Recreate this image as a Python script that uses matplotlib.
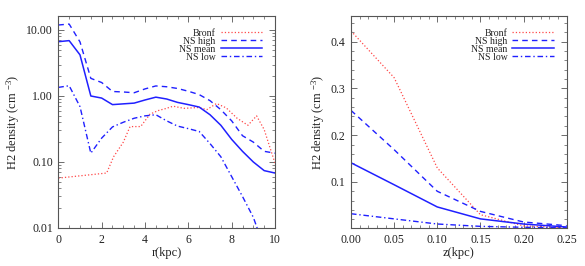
import matplotlib
matplotlib.use('Agg')
import matplotlib.pyplot as plt
from matplotlib.ticker import MultipleLocator, FixedLocator, FixedFormatter, NullFormatter, LogLocator
import numpy as np

# radial profile (left)
r_ns = [0, 0.5, 1.0, 1.5, 2.0, 2.5, 3.0, 3.5, 4.0, 4.5, 5.0, 5.5, 6.0, 6.5, 7.0, 7.5, 8.0, 8.5, 9.0, 9.5, 10.0]
ns_high_r = [11.9, 12.3, 6.6, 1.85, 1.6, 1.17, 1.15, 1.12, 1.28, 1.42, 1.38, 1.30, 1.18, 1.05, 0.85, 0.62, 0.42, 0.25, 0.20, 0.145, 0.136]
ns_mean_r = [6.65, 6.9, 4.2, 1.0, 0.93, 0.74, 0.76, 0.78, 0.87, 0.96, 0.90, 0.80, 0.74, 0.68, 0.52, 0.36, 0.22, 0.145, 0.10, 0.074, 0.068]
ns_low_r = [1.35, 1.43, 0.69, 0.136, 0.23, 0.34, 0.40, 0.46, 0.50, 0.52, 0.42, 0.35, 0.32, 0.29, 0.19, 0.12, 0.06, 0.030, 0.0145, 0.005, 0.002]

r_bronf = [0, 2.23, 2.55, 3.0, 3.31, 3.8, 4.23, 4.6, 4.92, 5.3, 5.8, 6.5, 6.85, 7.3, 7.75, 8.25, 8.75, 9.15, 9.5, 10.0]
bronf_r = [0.057, 0.068, 0.12, 0.20, 0.344, 0.344, 0.53, 0.60, 0.64, 0.70, 0.65, 0.67, 0.62, 0.77, 0.66, 0.46, 0.36, 0.50, 0.31, 0.096]

# vertical profile (right)
z = [0.0, 0.05, 0.10, 0.15, 0.20, 0.25]
bronf_z = [0.423, 0.323, 0.13, 0.03, 0.006, 0.002]
ns_high_z = [0.253, 0.169, 0.08, 0.037, 0.0143, 0.0064]
ns_mean_z = [0.141, 0.094, 0.0465, 0.021, 0.010, 0.0036]
ns_low_z = [0.032, 0.021, 0.010, 0.005, 0.003, 0.002]

labels = ['Bronf', 'NS high', 'NS mean', 'NS low']

plt.rcParams['font.family'] = 'Liberation Serif'
plt.rcParams['mathtext.fontset'] = 'custom'
plt.rcParams['mathtext.rm'] = 'Liberation Serif'
plt.rcParams['mathtext.default'] = 'regular'
plt.rcParams['axes.edgecolor'] = '#555555'
plt.rcParams['axes.linewidth'] = 0.8

fig = plt.figure(figsize=(5.85, 2.66), dpi=100)
ax1 = fig.add_axes([0.0997, 0.1429, 0.3704, 0.797])
ax2 = fig.add_axes([0.6, 0.1429, 0.3687, 0.797])

blue = '#2020ff'
red = '#ff4848'

def style_ticks(ax):
    ax.tick_params(which='both', direction='in', top=True, right=True,
                   labelsize=8.5, colors='#555555', labelcolor='#222222', pad=4)
    ax.tick_params(which='major', length=4, width=0.6)
    ax.tick_params(which='minor', length=2, width=0.5)

# left panel
ax1.plot(r_bronf, bronf_r, ls=':', color=red, lw=0.9, label=labels[0])
ax1.plot(r_ns, ns_high_r, ls=(0, (4, 3)), color=blue, lw=1.0, label=labels[1])
ax1.plot(r_ns, ns_mean_r, ls='-', color=blue, lw=1.1, label=labels[2])
ax1.plot(r_ns, ns_low_r, ls=(0, (4, 2, 1, 2)), color=blue, lw=1.0, label=labels[3])
ax1.set_yscale('log')
ax1.set_xlim(0, 10)
ax1.set_ylim(0.01, 16.3)
ax1.xaxis.set_major_locator(MultipleLocator(2))
ax1.xaxis.set_minor_locator(MultipleLocator(0.5))
ax1.yaxis.set_major_locator(FixedLocator([0.01, 0.1, 1, 10]))
ax1.yaxis.set_major_formatter(FixedFormatter(['0.01', '0.10', '1.00', '10.00']))
ax1.yaxis.set_minor_locator(LogLocator(base=10, subs=np.arange(2, 10)))
ax1.yaxis.set_minor_formatter(NullFormatter())
style_ticks(ax1)
ax1.set_xlabel('r(kpc)', fontsize=9, labelpad=1, color='#222222')
ax1.set_ylabel('H2 density (cm $^{-3}$)', fontsize=9, labelpad=3, color='#222222')

# right panel
ax2.plot(z, bronf_z, ls=':', color=red, lw=0.9, label=labels[0])
ax2.plot(z, ns_high_z, ls=(0, (4, 3)), color=blue, lw=1.0, label=labels[1])
ax2.plot(z, ns_mean_z, ls='-', color=blue, lw=1.1, label=labels[2])
ax2.plot(z, ns_low_z, ls=(0, (4, 2, 1, 2)), color=blue, lw=1.0, label=labels[3])
ax2.set_xlim(0, 0.25)
ax2.set_ylim(0.0015, 0.455)
ax2.xaxis.set_major_locator(MultipleLocator(0.05))
ax2.xaxis.set_minor_locator(MultipleLocator(0.01))
ax2.xaxis.set_major_formatter(plt.FormatStrFormatter('%.2f'))
ax2.yaxis.set_major_locator(FixedLocator([0.1, 0.2, 0.3, 0.4]))
ax2.yaxis.set_major_formatter(plt.FormatStrFormatter('%.1f'))
ax2.yaxis.set_minor_locator(MultipleLocator(0.02))
style_ticks(ax2)
ax2.set_xlabel('z(kpc)', fontsize=9, labelpad=1, color='#222222')
ax2.set_ylabel('H2 density (cm $^{-3}$)', fontsize=9, labelpad=3, color='#222222')

for ax in (ax1, ax2):
    ax.legend(loc='upper right', markerfirst=False, frameon=False, fontsize=7,
              handlelength=4.3, handletextpad=0.5, labelspacing=-0.1,
              borderaxespad=0.9, labelcolor='#222222')

fig.savefig('out.png', dpi=100)
